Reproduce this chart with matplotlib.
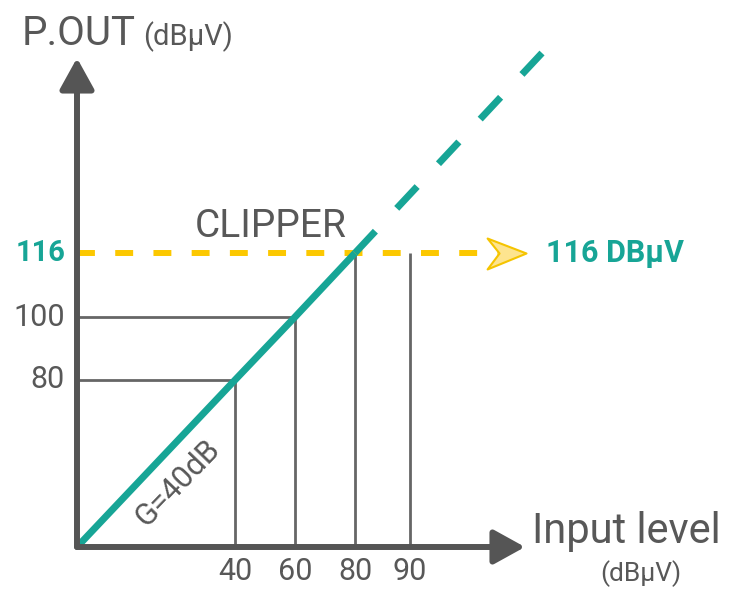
import numpy as np
import matplotlib
matplotlib.use('Agg')
import matplotlib.pyplot as plt
from matplotlib.path import Path

# Data: amplifier response (input level -> output level, dBμV)
input_level = [0, 40, 60, 80]
output_level = [0, 80, 100, 116]
clip_level = 116
x_ticks = [40, 60, 80, 90]
y_ticks = [80, 100, 116]
# unclipped continuation past the clipper (dashed)
ext_input = [80, 114]
ext_output = [116, 166]
arrow_input = 111  # where the 116 dBμV arrow points

TEAL = '#17a596'
YELLOW = '#fcc800'
GRAY = '#585858'
AXIS = '#555555'
plt.rcParams['font.family'] = ['Roboto', 'DejaVu Sans']
WEIGHT = 'normal'


def piecewise_scale(vals, pix):
    # schematic axis: values are not evenly spaced on the drawing
    vals = np.asarray(vals, float)
    pix = np.asarray(pix, float)
    s0 = (pix[1] - pix[0]) / (vals[1] - vals[0])
    s1 = (pix[-1] - pix[-2]) / (vals[-1] - vals[-2])

    def fwd(v):
        v = np.asarray(v, float)
        out = np.interp(v, vals, pix)
        out = np.where(v < vals[0], pix[0] + (v - vals[0]) * s0, out)
        return np.where(v > vals[-1], pix[-1] + (v - vals[-1]) * s1, out)

    def inv(p):
        p = np.asarray(p, float)
        out = np.interp(p, pix, vals)
        out = np.where(p < pix[0], vals[0] + (p - pix[0]) / s0, out)
        return np.where(p > pix[-1], vals[-1] + (p - pix[-1]) / s1, out)

    return fwd, inv


W, H = 734, 594
fig = plt.figure(figsize=(W / 100, H / 100), dpi=100)
ax = fig.add_axes([0, 0, 1, 1])
ax.axis('off')

fx, ix = piecewise_scale([0, 40, 60, 80, 90], [77, 235, 295, 355, 410])
fy, iy = piecewise_scale([0, 80, 100, 116], [H - 547, H - 380, H - 317, H - 253])
ax.set_xscale('function', functions=(fx, ix))
ax.set_yscale('function', functions=(fy, iy))
ax.set_xlim(float(ix(0)), float(ix(W)))
ax.set_ylim(float(iy(0)), float(iy(H)))

# guide lines
for x, y in zip(input_level[1:3], output_level[1:3]):
    ax.hlines(y, 0, x, color='#666666', lw=2, zorder=1)
for x in x_ticks:
    ax.vlines(x, 0, min(np.interp(x, input_level, output_level), clip_level),
              color='#666666', lw=2, zorder=1)

# clipping level, dashed yellow with arrow
ax.plot([0, arrow_input - 5], [clip_level, clip_level], color=YELLOW, lw=4.3,
        dashes=(3.0, 3.4), solid_capstyle='butt', dash_capstyle='butt', zorder=2)
chevron = Path([(0, 0), (-39, 15), (-27, 0), (-39, -16), (0, 0)],
               [Path.MOVETO, Path.LINETO, Path.LINETO, Path.LINETO, Path.CLOSEPOLY])
ax.plot([arrow_input], [clip_level], marker=chevron, ms=56, mfc='#fde48f',
        mec='#f5c400', mew=1.5, zorder=3)

# gain line
ax.plot(input_level, output_level, color=TEAL, lw=5, solid_capstyle='butt', zorder=4)
ax.plot(ext_input, ext_output, color=TEAL, lw=5, dashes=(4.3, 4.5),
        dash_capstyle='butt', zorder=4)

# axes with arrows
arrow = dict(arrowstyle='-|>,head_length=1.9,head_width=1.05', color=AXIS,
             lw=4.3, shrinkA=0, shrinkB=0, mutation_scale=10)
ax.annotate('', xy=(525 / W, 0), xycoords=('axes fraction', 'data'),
            xytext=(0, 0), textcoords='data', arrowprops=arrow, zorder=5)
ax.annotate('', xy=(0, 1 - 58 / H), xycoords=('data', 'axes fraction'),
            xytext=(0, 0), textcoords='data', arrowprops=arrow, zorder=5)

# tick labels
for x in x_ticks:
    ax.annotate(str(x), (x, 0), xytext=(0, -24), textcoords='offset pixels',
                ha='center', va='center', fontsize=22, color=GRAY, fontweight=WEIGHT)
for y in y_ticks:
    if y == clip_level:
        ax.annotate(str(y), (0, y), xytext=(-12, 0), textcoords='offset pixels',
                    ha='right', va='center', fontsize=21, color=TEAL, fontweight='bold')
    else:
        ax.annotate(str(y), (0, y), xytext=(-12, 0), textcoords='offset pixels',
                    ha='right', va='center', fontsize=22, color=GRAY, fontweight=WEIGHT)

# annotations
ax.annotate('CLIPPER', (input_level[-1], clip_level), xytext=(-8, 16),
            textcoords='offset pixels', ha='right', va='baseline',
            fontsize=28, color=GRAY, fontweight=WEIGHT)
ax.annotate('116 DBμV', (arrow_input, clip_level), xytext=(20, 0),
            textcoords='offset pixels', ha='left', va='center',
            fontsize=22, color=TEAL, fontweight='bold')
ax.annotate('G=40dB', (20, np.interp(20, input_level, output_level)), xytext=(21, -20),
            textcoords='offset pixels', ha='center', va='center', fontweight=WEIGHT,
            fontsize=22, color=GRAY, rotation=46, rotation_mode='anchor')

# axis titles
ax.text(22 / W, 1 - 45 / H, 'P.OUT', transform=ax.transAxes, fontsize=29,
        color=GRAY, va='baseline', ha='left', fontweight=WEIGHT)
ax.text(143 / W, 1 - 45 / H, '(dBμV)', transform=ax.transAxes, fontsize=21,
        color=GRAY, va='baseline', ha='left', fontweight=WEIGHT)
ax.text(532 / W, 1 - 543 / H, 'Input level', transform=ax.transAxes, fontsize=30,
        color=GRAY, va='baseline', ha='left', fontweight=WEIGHT)
ax.text(641 / W, 1 - 581 / H, '(dBμV)', transform=ax.transAxes, fontsize=19,
        color=GRAY, va='baseline', ha='center', fontweight=WEIGHT)

fig.savefig('out.png', dpi=100)
